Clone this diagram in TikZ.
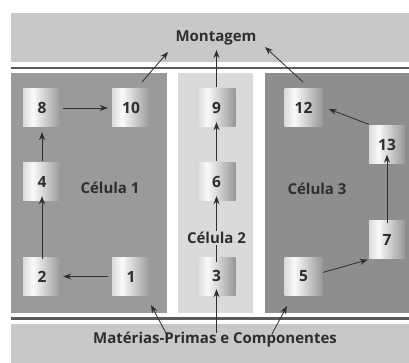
\documentclass[tikz,border=0pt]{standalone}
\usepackage{fontspec}
\setmainfont{Open Sans}
\usetikzlibrary{arrows.meta}
\definecolor{band}{HTML}{C8C8C8}
\definecolor{cellA}{HTML}{9A9A9A}
\definecolor{cellB}{HTML}{DADADA}
\definecolor{cellC}{HTML}{8E8E8E}
\definecolor{rule}{HTML}{5A5A5A}
\definecolor{ink}{HTML}{2E2E2E}
\definecolor{cylL}{HTML}{9C9C9C}
\definecolor{cylM}{HTML}{FAFAFA}
\definecolor{cylR}{HTML}{8A8A8A}
\definecolor{cylE}{HTML}{5E5E5E}
\pgfdeclarehorizontalshading{cyl}{100bp}{color(0bp)=(cylL); color(38bp)=(cylM); color(80bp)=(cylR); color(92bp)=(cylE); color(100bp)=(cylE)}
\tikzset{
  machine/.style={minimum width=38pt, minimum height=38pt, inner sep=0pt, shading=cyl,
    font=\bfseries\fontsize{15.5}{16}\selectfont, text=ink},
  lbl/.style={font=\bfseries\fontsize{15}{16}\selectfont, text=ink, inner sep=1pt},
  arr/.style={draw=ink, line width=0.8pt, -{Stealth[length=8pt,width=6pt]}}
}
\begin{document}
\begin{tikzpicture}[x=1pt,y=-1pt]
\useasboundingbox (0,0) rectangle (409,363);
\fill[white] (0,0) rectangle (409,363);
% bands
\fill[band] (11,13) rectangle (409,62);
\fill[rule] (11,67) rectangle (409,69.5);
\fill[band] (11,323.5) rectangle (409,363);
\fill[rule] (11,317) rectangle (409,319.5);
% cells
\fill[cellA] (11,73) rectangle (167,313);
\fill[cellB] (178,73) rectangle (253,313);
\fill[cellC] (265,73) rectangle (409,313);
% machines
\node[machine] (m8) at (42,108) {8};
\node[machine] (m10) at (131,108) {10};
\node[machine] (m9) at (216.5,108) {9};
\node[machine] (m12) at (303.5,108) {12};
\node[machine] (m4) at (42,182) {4};
\node[machine] (m6) at (216.5,182) {6};
\node[machine, minimum width=36pt] (m13) at (387,144.5) {13};
\node[machine, minimum width=36pt] (m7) at (387,239.5) {7};
\node[machine] (m2) at (42,276.5) {2};
\node[machine] (m1) at (131,276.5) {1};
\node[machine] (m3) at (216.5,276) {3};
\node[machine] (m5) at (303.5,276.5) {5};
% labels
\node[lbl] (mont) at (216,38) {Montagem};
\node[lbl] (mat) at (215,340) {Matérias-Primas e Componentes};
\node[lbl] (c1) at (110,188) {Célula 1};
\node[lbl] (c3) at (317,189) {Célula 3};
% free ends
\coordinate (t10) at (168,52);
\coordinate (s10) at (142,82);
\coordinate (t9) at (216.5,50);
\coordinate (t12) at (265,47);
\coordinate (s12) at (303,82);
\coordinate (tA) at (151,305);
\coordinate (sA) at (167,335);
\coordinate (tC) at (287,306);
\coordinate (sC) at (272,334);
\coordinate (s3) at (216.5,333);
% arrows
\draw[arr] (s10) -- (t10);
\draw[arr] (m9.north) ++(0,-2) -- (t9);
\draw[arr] (s12) -- (t12);
\draw[arr] ([xshift=2pt]m8.east) -- ([xshift=-4pt]m10.west);
\draw[arr] ([yshift=2pt]m4.north) -- ([yshift=-5pt]m8.south);
\draw[arr] ([yshift=-2pt]m2.north) -- ([yshift=5pt]m4.south);
\draw[arr] ([xshift=-4pt]m1.west) -- ([xshift=2pt]m2.east);
\draw[arr] ([yshift=-5pt]m3.north) -- ([yshift=5pt]m6.south);
\draw[arr] ([yshift=2pt]m6.north) -- ([yshift=5pt]m9.south);
\draw[arr] ([yshift=4pt]m5.east) -- ([xshift=-1pt,yshift=-1pt]m7.south west);
\draw[arr] ([yshift=-3pt]m7.north) -- ([yshift=9pt]m13.south);
\draw[arr] ([yshift=1pt]m13.north west) -- ([xshift=6pt,yshift=-1pt]m12.east);
\draw[arr] (sA) -- (tA);
\draw[arr] (s3) -- ([yshift=6pt]m3.south);
\draw[arr] (sC) -- (tC);
% label over the 3->6 line
\node[lbl, fill=cellB, inner sep=1pt] (c2) at (216.5,238) {Célula 2};
\end{tikzpicture}
\end{document}
